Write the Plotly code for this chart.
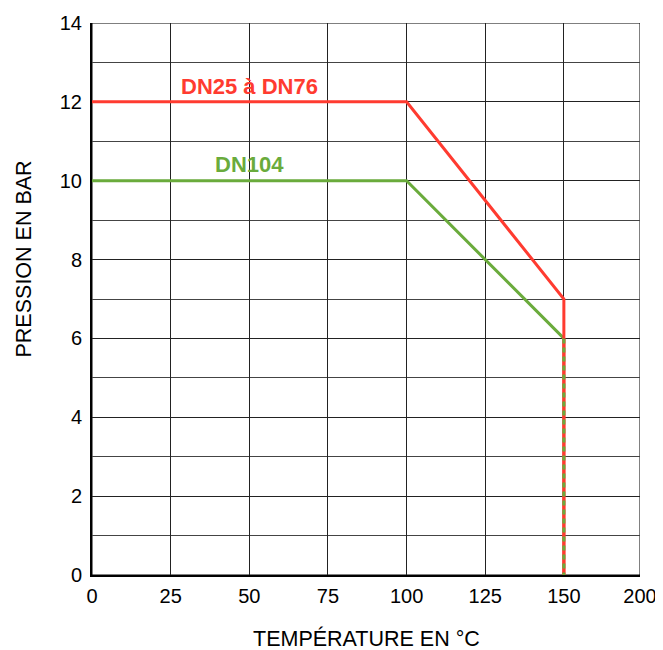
import plotly.graph_objects as go

# Data
temp_red = [0, 100, 150, 150]
pres_red = [12, 12, 7, 6]
temp_green = [0, 100, 150]
pres_green = [10, 10, 6]
temp_vert = [150, 150]
pres_vert = [6, 0]
x_max = 174.2  # last (shortened) interval of the original axis, labelled 200
x_tickvals = [0, 25, 50, 75, 100, 125, 150, x_max]
x_ticktext = ["0", "25", "50", "75", "100", "125", "150", "200"]
y_tickvals = [0, 2, 4, 6, 8, 10, 12, 14]

RED = "#FF3B30"
GREEN = "#6AAB3C"
FONT = "Liberation Sans, Arial, sans-serif"

# page body has an 8px margin; compensate
W, H = 655, 642
L, R, T, B = 84, 23, 15, 75
plot_w = W - L - R
plot_h = H - T - B

fig = go.Figure()
fig.add_trace(go.Scatter(x=temp_vert, y=pres_vert, mode="lines",
                         line=dict(color=RED, width=3.5), showlegend=False))
fig.add_trace(go.Scatter(x=temp_vert, y=pres_vert, mode="lines",
                         line=dict(color=GREEN, width=3, dash="5px,4px"), showlegend=False))
fig.add_trace(go.Scatter(x=temp_green, y=pres_green, mode="lines",
                         line=dict(color=GREEN, width=3), showlegend=False))
fig.add_trace(go.Scatter(x=temp_red, y=pres_red, mode="lines",
                         line=dict(color=RED, width=3), showlegend=False))

fig.add_annotation(x=50, y=12.38, text="<b>DN25 à DN76</b>", showarrow=False,
                   font=dict(color=RED, size=22, family=FONT))
fig.add_annotation(x=50, y=10.41, text="<b>DN104</b>", showarrow=False,
                   font=dict(color=GREEN, size=22, family=FONT))

# axis titles
fig.add_annotation(xref="paper", yref="paper", x=0.5, y=-63 / plot_h,
                   text="TEMPÉRATURE EN °C", showarrow=False,
                   xanchor="center", yanchor="middle",
                   font=dict(size=21.5, family=FONT, color="black"))
fig.add_annotation(xref="paper", yref="paper", x=-68.5 / plot_w, y=(575 - 259) / plot_h,
                   text="PRESSION EN BAR", showarrow=False, textangle=-90,
                   xanchor="center", yanchor="middle",
                   font=dict(size=21.5, family=FONT, color="black"))

fig.add_shape(type="rect", xref="x", yref="y", x0=0, x1=x_max, y0=0, y1=14,
              line=dict(color="black", width=1), layer="below")

fig.update_layout(
    width=W, height=H,
    margin=dict(l=L, r=R, t=T, b=B, autoexpand=False),
    plot_bgcolor="white", paper_bgcolor="white",
    font=dict(family=FONT, size=20, color="black"),
    xaxis=dict(range=[0, x_max], tickvals=x_tickvals, ticktext=x_ticktext,
               showgrid=True, gridcolor="#222", gridwidth=1,
               showline=True, linecolor="black", linewidth=2,
               zeroline=False, ticks="", tickfont=dict(size=20),
               automargin=False, ticklabeloverflow="allow", ticklabelstandoff=2),
    yaxis=dict(range=[0, 14], tickvals=y_tickvals,
               showgrid=True, gridcolor="#222", gridwidth=1,
               minor=dict(dtick=1, showgrid=True, gridcolor="#444", gridwidth=1),
               showline=True, linecolor="black", linewidth=2,
               zeroline=False, ticks="", tickfont=dict(size=20),
               automargin=False, ticklabeloverflow="allow", ticklabelstandoff=4),
)

fig.write_html("out.html")
